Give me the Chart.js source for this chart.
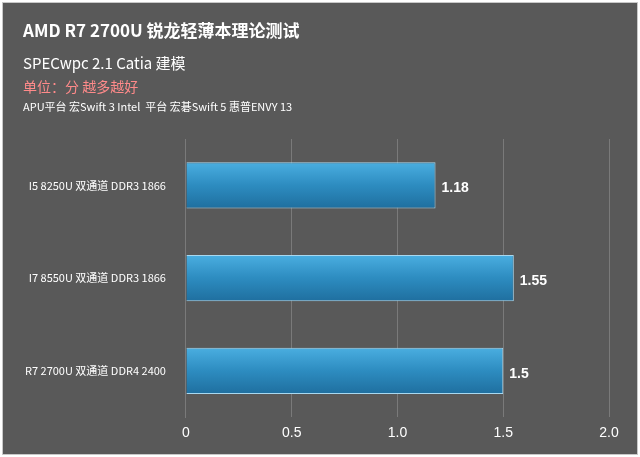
<!DOCTYPE html>
<html><head><meta charset="utf-8">
<script src="https://cdn.jsdelivr.net/npm/chart.js@4/dist/chart.umd.min.js"></script>
<style>
html,body{margin:0;padding:0;background:#fff;}
#wrap{position:absolute;left:2px;top:2px;width:634px;height:451px;background:#595959;border:1px solid #c8c8c8;}
</style></head><body>
<div id="wrap"><canvas id="c" width="634" height="451"></canvas></div>
<script>
const categories = ['I5 8250U 双通道 DDR3 1866', 'I7 8550U 双通道 DDR3 1866', 'R7 2700U 双通道 DDR4 2400'];
const scores = [1.18, 1.55, 1.5];
const ticks = [0, 0.5, 1, 1.5, 2];

const header = {
  id: 'header',
  afterDraw(chart) {
    const c = chart.ctx;
    c.save();
    c.textBaseline = 'middle';
    c.fillStyle = '#fff';
    c.font = 'bold 17px "Noto Sans CJK SC", sans-serif';
    c.fillText('AMD R7 2700U 锐龙轻薄本理论测试', 20, 28);
    c.font = '15px "Noto Sans CJK SC", sans-serif';
    c.fillText('SPECwpc 2.1 Catia 建模', 20, 60);
    c.fillStyle = '#ff8a8a';
    c.font = '14px "Noto Sans CJK SC", sans-serif';
    c.fillText('单位：分 越多越好', 20, 84);
    c.fillStyle = '#fff';
    c.font = '11px "Noto Sans CJK SC", sans-serif';
    c.fillText('APU平台 宏Swift 3 Intel  平台 宏碁Swift 5 惠普ENVY 13', 20, 104);
    const meta = chart.getDatasetMeta(0);
    c.font = 'bold 14px "Liberation Sans", sans-serif';
    meta.data.forEach((b, i) => c.fillText(String(scores[i]), b.x + 6, b.y + 3));
    c.restore();
  }
};

new Chart(document.getElementById('c'), {
  type: 'bar',
  data: {
    labels: categories,
    datasets: [{
      data: scores,
      backgroundColor: (ctx) => {
        const ys = ctx.chart.scales && ctx.chart.scales.y;
        if (!ys || ctx.dataIndex === undefined) return '#2f8fc0';
        const y = ys.getPixelForValue(ctx.dataIndex);
        if (!isFinite(y)) return '#2f8fc0';
        const g = ctx.chart.ctx.createLinearGradient(0, y - 23, 0, y + 23);
        g.addColorStop(0, '#4aaee0');
        g.addColorStop(0.5, '#2d8cc0');
        g.addColorStop(1, '#1f6f9f');
        return g;
      },
      borderColor: '#a8d8f0',
      borderWidth: 1,
      barPercentage: 0.5,
      categoryPercentage: 1
    }]
  },
  options: {
    indexAxis: 'y',
    responsive: false,
    animation: false,
    layout: { padding: { top: 136, right: 28, bottom: 4, left: 10 } },
    plugins: { legend: { display: false }, tooltip: { enabled: false } },
    scales: {
      x: {
        min: 0, max: 2,
        afterBuildTicks: (s) => { s.ticks = ticks.map(v => ({ value: v })); },
        grid: { color: '#7a7a7a', drawTicks: false },
        border: { display: false },
        ticks: { color: '#fff', font: { size: 14, family: 'Liberation Sans' }, padding: 8 }
      },
      y: {
        grid: { display: false },
        border: { color: '#7a7a7a' },
        ticks: { color: '#fff', font: { size: 11, family: '"Noto Sans CJK SC"' }, padding: 12 }
      }
    }
  },
  plugins: [header]
});
</script>
</body></html>
